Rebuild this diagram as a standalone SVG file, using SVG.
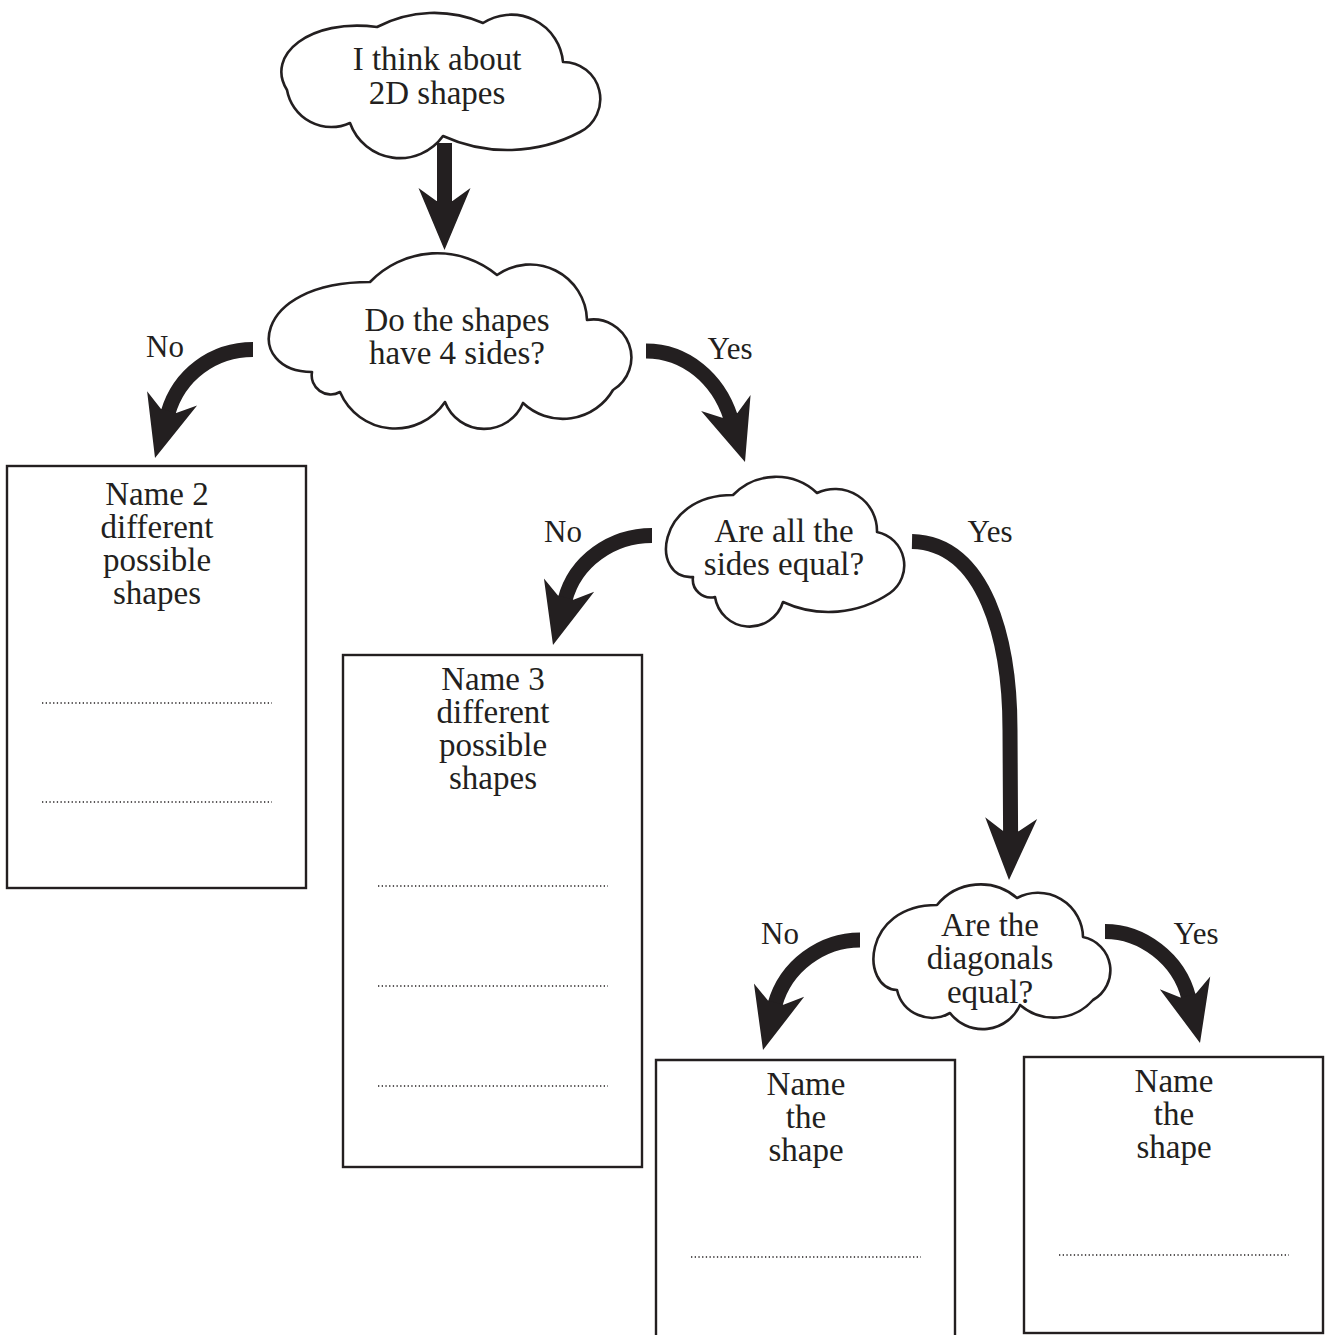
<svg xmlns="http://www.w3.org/2000/svg" xmlns:xlink="http://www.w3.org/1999/xlink" width="1329" height="1335" viewBox="0 0 1329 1335">
<style>
.bg{fill:#ffffff}
.cloud{fill:#ffffff;stroke:#231f20;stroke-width:2.6;stroke-linejoin:round}
.box{fill:#ffffff;stroke:#231f20;stroke-width:2.4}
.t{font-family:"Liberation Serif","Times New Roman",serif;font-size:33px;fill:#231f20;text-anchor:middle}
.lbl{font-family:"Liberation Serif","Times New Roman",serif;font-size:31px;fill:#231f20;text-anchor:middle}
.dots{stroke:#231f20;stroke-width:1.5;stroke-dasharray:1.3 2.4;fill:none}
.shaft{fill:none;stroke:#231f20;stroke-width:15;stroke-linecap:butt}
.head{fill:#231f20}
</style>
<defs>
<path id="head" class="head" d="M0,0 L-62,-26 L-49,-8 L-49,8 L-62,26 Z"/>
</defs>
<rect class="bg" x="0" y="0" width="1329" height="1335"/>

<g id="connectors">
  <path class="shaft" d="M444.5,143 L444.5,204"/>
  <use xlink:href="#head" href="#head" transform="translate(444.5,250) rotate(90)"/>

  <path class="shaft" d="M253,349.5 C213,349.5 179,375 168,413"/>
  <use xlink:href="#head" href="#head" transform="translate(155,458) rotate(106)"/>

  <path class="shaft" d="M646,351 C686,351 718,379 730.5,417"/>
  <use xlink:href="#head" href="#head" transform="translate(745,462) rotate(72)"/>

  <path class="shaft" d="M652,535.5 C612,535.5 575,561 565,600"/>
  <use xlink:href="#head" href="#head" transform="translate(553,645) rotate(105)"/>

  <path class="shaft" d="M912,541.5 C985,543 1010,640 1010,730 L1010.6,834"/>
  <use xlink:href="#head" href="#head" transform="translate(1009,880) rotate(92)"/>

  <path class="shaft" d="M860,940 C822,940 785.6,966 775,1004.6"/>
  <use xlink:href="#head" href="#head" transform="translate(763,1050) rotate(105)"/>

  <path class="shaft" d="M1105,931.5 C1142,931.5 1178.9,958.6 1188.6,997.4"/>
  <use xlink:href="#head" href="#head" transform="translate(1200,1043) rotate(76)"/>

  <text class="lbl" x="165" y="357">No</text>
  <text class="lbl" x="730" y="359">Yes</text>
  <text class="lbl" x="563" y="542">No</text>
  <text class="lbl" x="990" y="542">Yes</text>
  <text class="lbl" x="780" y="944">No</text>
  <text class="lbl" x="1196" y="944">Yes</text>
</g>

<g id="start">
  <path class="cloud" d="M287,90 C265,55 310,18 377,27 A123,123 0 0 1 483,23 A52,52 0 0 1 563,62 A37,37 0 0 1 580,132 A155,155 0 0 1 443,136 A53,53 0 0 1 350,123 A45,45 0 0 1 287,90 Z"/>
  <text class="t" x="437" y="70">I think about</text>
  <text class="t" x="437" y="104">2D shapes</text>
</g>

<g id="q-four-sides">
  <path class="cloud" d="M312,372 C245,372 250,282 370,282 A93,93 0 0 1 497,275 A57,57 0 0 1 587,320 A38,38 0 0 1 613,390 A58,58 0 0 1 523,403 A42,42 0 0 1 445,402 A60,60 0 0 1 340,392 A19,19 0 0 1 312,372 Z"/>
  <text class="t" x="457" y="331">Do the shapes</text>
  <text class="t" x="457" y="364">have 4 sides?</text>
</g>

<g id="q-sides-equal">
  <path class="cloud" d="M693,577 C650,580 655,495 733,495 A60,60 0 0 1 817,493 A42,42 0 0 1 877,532 A34,34 0 0 1 890,593 A109,109 0 0 1 783,602 A35,35 0 0 1 715,597 A18,18 0 0 1 693,577 Z"/>
  <text class="t" x="784" y="542">Are all the</text>
  <text class="t" x="784" y="575">sides equal?</text>
</g>

<g id="q-diagonals">
  <path class="cloud" d="M897,990 C860,988 862,905 937,905 A56,56 0 0 1 1017,898 A45,45 0 0 1 1083,937 A34,34 0 0 1 1093,1000 A52,52 0 0 1 1020,1005 A41,41 0 0 1 950,1013 A36,36 0 0 1 897,990 Z"/>
  <text class="t" x="990" y="936">Are the</text>
  <text class="t" x="990" y="969">diagonals</text>
  <text class="t" x="990" y="1003">equal?</text>
</g>

<g id="box-not-four">
  <rect class="box" x="7" y="466" width="299" height="422"/>
  <text class="t" x="157" y="505">Name 2</text>
  <text class="t" x="157" y="538">different</text>
  <text class="t" x="157" y="571">possible</text>
  <text class="t" x="157" y="604">shapes</text>
  <line class="dots" x1="42" y1="703" x2="272" y2="703"/>
  <line class="dots" x1="42" y1="802" x2="272" y2="802"/>
</g>

<g id="box-sides-unequal">
  <rect class="box" x="343" y="655" width="299" height="512"/>
  <text class="t" x="493" y="690">Name 3</text>
  <text class="t" x="493" y="723">different</text>
  <text class="t" x="493" y="756">possible</text>
  <text class="t" x="493" y="789">shapes</text>
  <line class="dots" x1="378" y1="886" x2="608" y2="886"/>
  <line class="dots" x1="378" y1="986" x2="608" y2="986"/>
  <line class="dots" x1="378" y1="1086" x2="608" y2="1086"/>
</g>

<g id="box-diag-unequal">
  <path class="box" d="M656,1340 V1060 H955 V1340"/>
  <text class="t" x="806" y="1095">Name</text>
  <text class="t" x="806" y="1128">the</text>
  <text class="t" x="806" y="1161">shape</text>
  <line class="dots" x1="691" y1="1257" x2="921" y2="1257"/>
</g>

<g id="box-diag-equal">
  <rect class="box" x="1024" y="1057" width="299" height="276"/>
  <text class="t" x="1174" y="1092">Name</text>
  <text class="t" x="1174" y="1125">the</text>
  <text class="t" x="1174" y="1158">shape</text>
  <line class="dots" x1="1059" y1="1255" x2="1289" y2="1255"/>
</g>
</svg>
